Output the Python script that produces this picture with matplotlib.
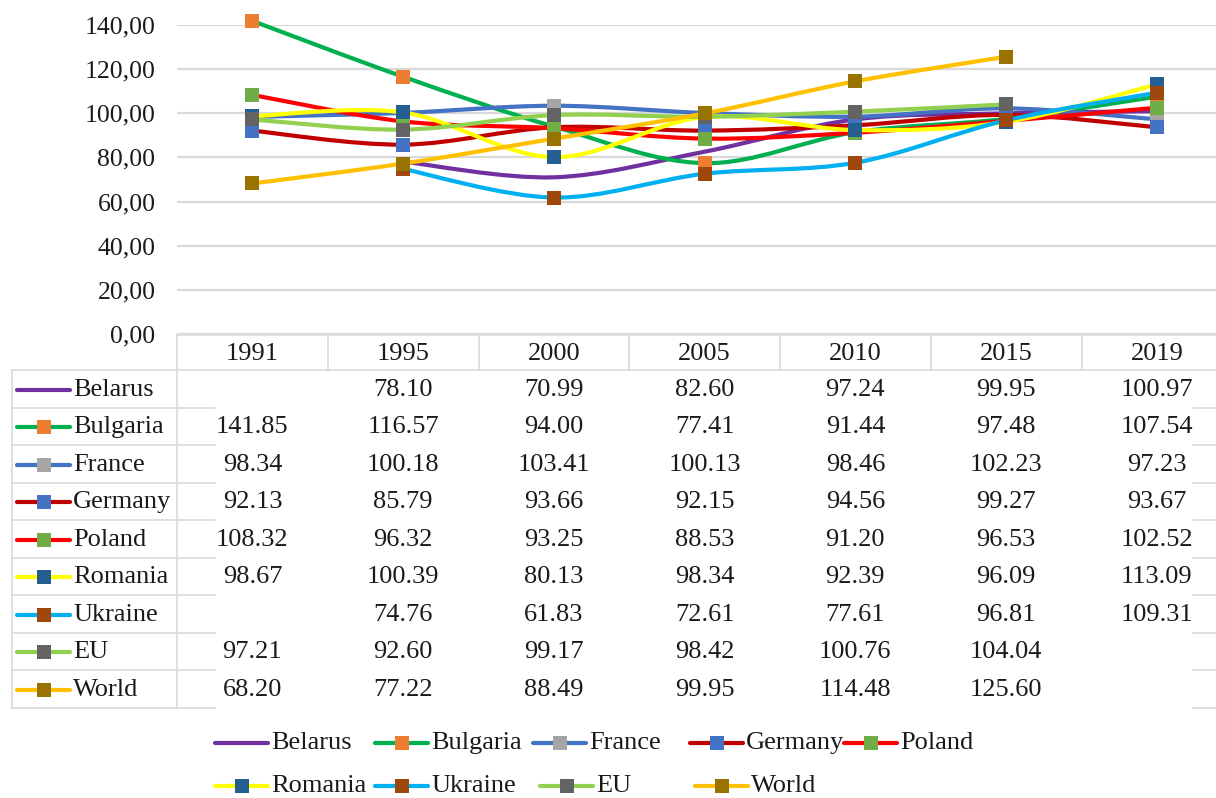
import numpy as np
import matplotlib
matplotlib.use("Agg")
import matplotlib.pyplot as plt
from matplotlib.path import Path
from matplotlib.patches import PathPatch
from matplotlib.lines import Line2D

# ---------------- data ----------------
years = ["1991", "1995", "2000", "2005", "2010", "2015", "2019"]
countries = ["Belarus", "Bulgaria", "France", "Germany", "Poland",
             "Romania", "Ukraine", "EU", "World"]

belarus = [None, 78.10, 70.99, 82.60, 97.24, 99.95, 100.97]
bulgaria = [141.85, 116.57, 94.00, 77.41, 91.44, 97.48, 107.54]
france = [98.34, 100.18, 103.41, 100.13, 98.46, 102.23, 97.23]
germany = [92.13, 85.79, 93.66, 92.15, 94.56, 99.27, 93.67]
poland = [108.32, 96.32, 93.25, 88.53, 91.20, 96.53, 102.52]
romania = [98.67, 100.39, 80.13, 98.34, 92.39, 96.09, 113.09]
ukraine = [None, 74.76, 61.83, 72.61, 77.61, 96.81, 109.31]
eu = [97.21, 92.60, 99.17, 98.42, 100.76, 104.04, None]
world = [68.20, 77.22, 88.49, 99.95, 114.48, 125.60, None]

series = [belarus, bulgaria, france, germany, poland, romania, ukraine, eu, world]

yticks = [0, 20, 40, 60, 80, 100, 120, 140]

# ---------------- styles ----------------
line_colors = ["#7030A0", "#00B050", "#4472C4", "#C00000", "#FF0000",
               "#FFFF00", "#00B0F0", "#92D050", "#FFC000"]
marker_colors = [None, "#ED7D31", "#A5A5A5", "#4472C4", "#70AD47",
                 "#255E91", "#9E480E", "#636363", "#997300"]

FONT = "Liberation Serif"
FS = 19
TXT = "#1a1a1a"
GRID = "#d9d9d9"
LW = 3.0
MS = 10.5

W, H = 1216, 798
fig = plt.figure(figsize=(W / 100, H / 100), dpi=100)

# overlay axes in pixel coordinates for the data table and legend
ov = fig.add_axes([0, 0, 1, 1], zorder=0)
ov.set_xlim(0, W)
ov.set_ylim(H, 0)
ov.axis("off")

# main chart axes
px_left, px_right, px_top, px_bottom = 177, 1216, 25, 334
col_w = 150.75
ax = fig.add_axes([px_left / W, 1 - px_bottom / H,
                   (px_right - px_left) / W, (px_bottom - px_top) / H], zorder=2)
ax.patch.set_alpha(0)
ax.set_xlim(-0.5, -0.5 + (px_right - px_left) / col_w)
ax.set_ylim(0, 140)
ax.set_yticks(yticks)
ax.set_yticklabels([f"{v:.2f}".replace(".", ",") for v in yticks],
                   fontfamily=FONT, fontsize=18.5, color=TXT)
ax.tick_params(axis="y", length=0, pad=15.5)
ax.set_xticks([])
for s in ax.spines.values():
    s.set_visible(False)
ax.grid(axis="y", color=GRID, lw=1.6, zorder=0)
ax.set_axisbelow(True)


def smooth_path(xs, ys):
    pts = np.column_stack([xs, ys]).astype(float)
    n = len(pts)
    verts = [pts[0]]
    codes = [Path.MOVETO]
    for k in range(n - 1):
        p0 = pts[max(k - 1, 0)]
        p1 = pts[k]
        p2 = pts[k + 1]
        p3 = pts[min(k + 2, n - 1)]
        c1 = p1 + (p2 - p0) / 6.0
        c2 = p2 - (p3 - p1) / 6.0
        verts += [c1, c2, p2]
        codes += [Path.CURVE4] * 3
    return Path(verts, codes)


for i, vals in enumerate(series):
    xs = [j for j, v in enumerate(vals) if v is not None]
    ys = [v for v in vals if v is not None]
    patch = PathPatch(smooth_path(xs, ys), fill=False, edgecolor=line_colors[i],
                      lw=LW, capstyle="round", joinstyle="round",
                      zorder=3 + 2 * i, clip_on=False)
    ax.add_patch(patch)
    if marker_colors[i] is not None:
        ax.plot(xs, ys, linestyle="none", marker="s", ms=MS,
                mfc=marker_colors[i], mec=marker_colors[i], mew=0,
                zorder=4 + 2 * i, clip_on=False)

# ---------------- data table ----------------
fig.canvas.draw()
col_centers = [ax.transData.transform((j, 0))[0] for j in range(len(years))]
bounds = [ax.transData.transform((j + 0.5, 0))[0] for j in range(len(years) - 1)]

hdr_top, hdr_bot = 335, 370
row_h = 37.5
n_rows = len(countries)
tbl_bot = hdr_bot + row_h * n_rows
tl = dict(color=GRID, lw=1.2, zorder=1)

ov.plot([px_left, W], [hdr_top, hdr_top], **tl)
ov.plot([12, W], [hdr_bot, hdr_bot], **tl)
for b in bounds:
    ov.plot([b, b], [hdr_top, hdr_bot], **tl)
ov.plot([px_left, px_left], [hdr_top, tbl_bot], **tl)
ov.plot([12, 12], [hdr_bot, tbl_bot], **tl)
for k in range(1, n_rows + 1):
    y = hdr_bot + row_h * k
    ov.plot([12, 215], [y, y], **tl)
    ov.plot([1193, W], [y, y], **tl)

for j, yr in enumerate(years):
    ov.text(col_centers[j], (hdr_top + hdr_bot) / 2 + 1, yr, ha="center", va="center",
            fontfamily=FONT, fontsize=FS, color=TXT)

for i, name in enumerate(countries):
    yc = hdr_bot + row_h * (i + 0.5) + 1
    ov.add_line(Line2D([17, 70], [yc, yc], color=line_colors[i], lw=LW,
                       solid_capstyle="round", zorder=3))
    if marker_colors[i] is not None:
        ov.add_line(Line2D([43.5], [yc], linestyle="none", marker="s", ms=MS,
                           mfc=marker_colors[i], mec=marker_colors[i], mew=0, zorder=4))
    ov.text(73, yc, name, ha="left", va="center", fontfamily=FONT,
            fontsize=FS, color=TXT)
    for j, v in enumerate(series[i]):
        if v is not None:
            ov.text(col_centers[j], yc, f"{v:.2f}", ha="center", va="center",
                    fontfamily=FONT, fontsize=FS, color=TXT)

# ---------------- legend ----------------
legend_rows = [
    (743, [0, 1, 2, 3, 4], [271, 431, 589, 746, 900]),
    (786, [5, 6, 7, 8], [271, 431, 596, 751]),
]
for yc, idxs, txs in legend_rows:
    for i, tx in zip(idxs, txs):
        ov.add_line(Line2D([tx - 56, tx - 3], [yc, yc], color=line_colors[i], lw=LW,
                           solid_capstyle="round", zorder=3))
        if marker_colors[i] is not None:
            ov.add_line(Line2D([tx - 29.5], [yc], linestyle="none", marker="s", ms=MS,
                               mfc=marker_colors[i], mec=marker_colors[i], mew=0,
                               zorder=4))
        ov.text(tx, yc, countries[i], ha="left", va="center", fontfamily=FONT,
                fontsize=FS, color=TXT)

fig.savefig("out.png", dpi=100)
